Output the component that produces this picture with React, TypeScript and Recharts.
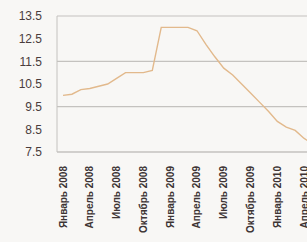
import React from "react";
import { CartesianGrid, Line, LineChart, XAxis, YAxis } from "recharts";

const months = [
  "Январь 2008", "Февраль 2008", "Март 2008", "Апрель 2008", "Май 2008", "Июнь 2008",
  "Июль 2008", "Август 2008", "Сентябрь 2008", "Октябрь 2008", "Ноябрь 2008", "Декабрь 2008",
  "Январь 2009", "Февраль 2009", "Март 2009", "Апрель 2009", "Май 2009", "Июнь 2009",
  "Июль 2009", "Август 2009", "Сентябрь 2009", "Октябрь 2009", "Ноябрь 2009", "Декабрь 2009",
  "Январь 2010", "Февраль 2010", "Март 2010", "Апрель 2010", "Май 2010", "Июнь 2010",
];

const rate = [
  10, 10.05, 10.25, 10.3, 10.4, 10.5,
  10.75, 11, 11, 11, 11.1, 13,
  13, 13, 13, 12.85, 12.25, 11.7,
  11.2, 10.9, 10.5, 10.1, 9.7, 9.3,
  8.85, 8.6, 8.45, 8.1, 7.85, 7.6,
];

const yTicks = [7.5, 8.5, 9.5, 10.5, 11.5, 12.5, 13.5];

const data = months.map((m, i) => ({ month: m, rate: rate[i] }));

const XTick = ({ x, y, payload }: { x: number; y: number; payload: { value: string } }) => (
  <text
    x={x}
    y={y}
    dy="0.35em"
    transform={`rotate(-90 ${x} ${y})`}
    textAnchor="end"
    fontSize={10}
    fontWeight="bold"
    fill="#3d3434"
    fontFamily="Liberation Sans, Arial, sans-serif"
  >
    {payload.value}
  </text>
);

export default function App() {
  return (
    <div
      style={{
        position: "absolute",
        left: 0,
        top: 0,
        width: 307,
        height: 242,
        overflow: "hidden",
        background: "#f8f7f5",
      }}
    >
      <LineChart width={330} height={242} data={data} margin={{ top: 16, right: 8, left: 0, bottom: 5 }}>
        <CartesianGrid vertical={false} stroke="#c4c2bf" strokeWidth={1.2} />
        <XAxis
          dataKey="month"
          interval={2}
          padding={{ left: 6, right: 0 }}
          height={85}
          tickLine={false}
          tickMargin={8}
          stroke="#c4c2bf"
          tick={XTick}
        />
        <YAxis
          domain={[7.5, 13.5]}
          ticks={yTicks}
          width={57}
          tickLine={false}
          tickMargin={9}
          stroke="#c4c2bf"
          tickFormatter={(v: number) => v.toFixed(1)}
          tick={{ fill: "#4a3c3c", fontSize: 12, fontFamily: "Liberation Sans, Arial, sans-serif" }}
        />
        <Line
          type="linear"
          dataKey="rate"
          stroke="#e2b98c"
          strokeWidth={1.4}
          dot={false}
          isAnimationActive={false}
        />
      </LineChart>
    </div>
  );
}
